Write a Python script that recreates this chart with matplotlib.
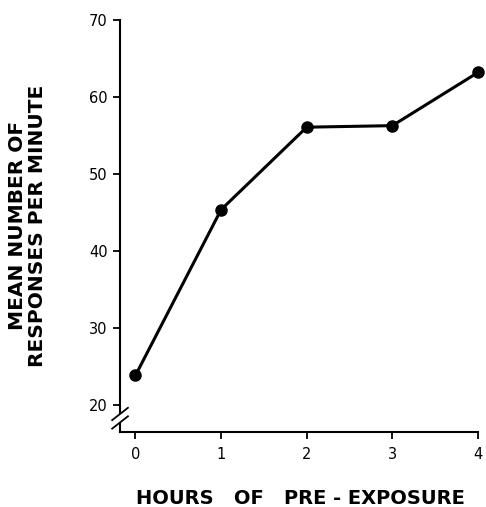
import matplotlib
matplotlib.use("Agg")
import matplotlib.pyplot as plt

# hours of pre-exposure vs mean responses per minute
hours = [0, 1, 2, 3, 4]
responses = [23.9, 45.4, 56.1, 56.3, 63.2]
yticks = [20, 30, 40, 50, 60, 70]

plt.rcParams['font.family'] = ['DejaVu Sans']

fig = plt.figure(figsize=(4.86, 5.07), dpi=100)
ax = fig.add_axes([0.247, 0.1485, 0.7365, 0.812])

ax.plot(hours, responses, color='black', lw=2.2, marker='o', ms=8,
        clip_on=False, zorder=3)

ax.set_xlim(-0.18, 4.0)
ax.set_ylim(16.6, 70)
ax.set_xticks(hours)
ax.set_yticks(yticks)
ax.tick_params(axis='both', direction='out', length=5, width=1.3,
               labelsize=10.5, pad=4)
ax.tick_params(axis='x', pad=6)

for s in ['top', 'right', 'left']:
    ax.spines[s].set_visible(False)
ax.spines['bottom'].set_linewidth(1.5)

# left axis with a break near the bottom
trans = ax.get_yaxis_transform()
ax.plot([0, 0], [19.0, 70], color='black', lw=1.5, transform=trans, clip_on=False)
ax.plot([0, 0], [16.6, 17.6], color='black', lw=1.5, transform=trans, clip_on=False)
for off in [0, 1.1]:
    ax.plot([-0.022, 0.022], [17.0 + off, 18.6 + off], color='black', lw=1.3,
            transform=trans, clip_on=False)

ax.set_ylabel('MEAN NUMBER OF\nRESPONSES PER MINUTE', fontsize=14.5,
              fontweight='bold', labelpad=30, linespacing=1.1)
ax.set_xlabel('HOURS   OF   PRE - EXPOSURE', fontsize=14, fontweight='bold')
ax.xaxis.set_label_coords(0.505, -0.138)

fig.savefig('out.png', dpi=100)
